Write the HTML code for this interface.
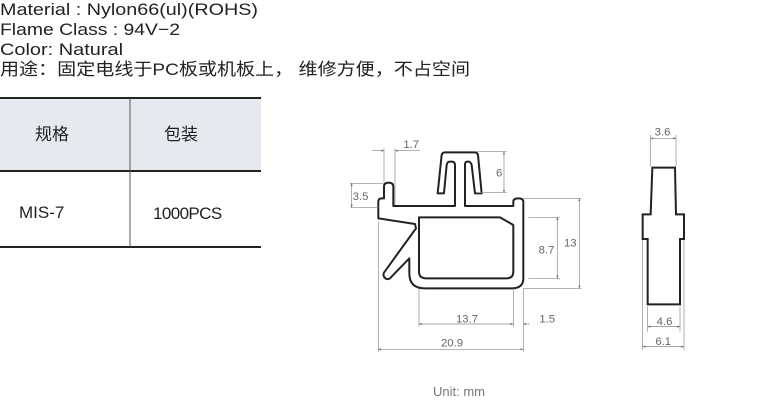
<!DOCTYPE html>
<html><head><meta charset="utf-8"><style>
html,body{margin:0;padding:0;background:#fff;}
svg{display:block;}
</style></head><body>
<svg width="780" height="407" viewBox="0 0 780 407" xmlns="http://www.w3.org/2000/svg">
<defs>
<marker id="a" viewBox="0 0 10 10" refX="10" refY="5" markerWidth="6" markerHeight="4" orient="auto-start-reverse"><path d="M0,1 L10,5 L0,9 Z" fill="#666"/></marker>
</defs>
<g font-family="Liberation Sans, Noto Sans CJK SC, sans-serif" fill="#222" font-size="17">
<text x="0" y="15" textLength="258" lengthAdjust="spacingAndGlyphs">Material : Nylon66(ul)(ROHS)</text>
<text x="0" y="35" textLength="180" lengthAdjust="spacingAndGlyphs">Flame Class : 94V−2</text>
<text x="0" y="55" textLength="123" lengthAdjust="spacingAndGlyphs">Color: Natural</text>
<text x="0" y="75" textLength="470" lengthAdjust="spacingAndGlyphs">用途：固定电线于PC板或机板上， 维修方便，不占空间</text>
</g>
<rect x="0" y="98" width="261" height="73" fill="#e6eaee"/>
<line x1="0" y1="98" x2="261" y2="98" stroke="#222" stroke-width="2"/>
<line x1="0" y1="171" x2="261" y2="171" stroke="#222" stroke-width="2"/>
<line x1="0" y1="247" x2="261" y2="247" stroke="#222" stroke-width="2"/>
<line x1="130" y1="98" x2="130" y2="247" stroke="#555" stroke-width="1"/>
<g font-family="Liberation Sans, Noto Sans CJK SC, sans-serif" fill="#222" font-size="17">
<text x="35" y="140">规格</text>
<text x="164" y="140">包装</text>
<text x="19" y="218">MIS-7</text>
<text x="153" y="219" letter-spacing="-0.6">1000PCS</text>
</g>
<g transform="translate(340,130) scale(0.3333)">
<g fill="none" stroke="#222" stroke-width="6" stroke-linejoin="round">
<path d="M115,265 L115,215 Q115,205 125,205 L132,205 L132,170 Q132,158 146,158 Q160,158 160,170 L160,228 L345,228 L345,105 Q345,95 335,95 L330,95 Q322,95 320,105 L312,190 L293,190 L305,75 Q307,67 315,67 L405,67 Q412,67 414,75 L425,190 L405,190 L395,105 Q392,95 385,95 L382,95 Q375,95 375,105 L375,228 L520,228 L520,215 Q520,205 535,205 Q550,205 550,215 L550,445 Q550,475 515,475 L255,475 Q208,475 208,430 L208,385 L150,445 Q140,452 132,440 Q128,432 134,425 L228,295 L225,282 Z"/>
<path d="M237,262 L480,262 L520,285 L520,425 Q520,445 500,445 L258,445 Q237,445 237,425 Z"/>
</g>
<g stroke="#888" stroke-width="2" fill="none">
<path d="M132,55 V158 M165,55 V225 M30,160 H130 M30,232 H115 M410,65 H500 M410,188 H500 M550,205 H725 M550,475 H725 M565,262 H660 M565,445 H660 M237,475 V590 M520,475 V590 M550,475 V665 M115,275 V665"/>
<line x1="95" y1="62" x2="132" y2="62" marker-end="url(#a)"/>
<line x1="165" y1="62" x2="240" y2="62"/>
<line x1="165" y1="62" x2="175" y2="62" marker-start="url(#a)"/>
<line x1="35" y1="160" x2="35" y2="232" marker-start="url(#a)" marker-end="url(#a)"/>
<line x1="492" y1="65" x2="492" y2="188" marker-start="url(#a)" marker-end="url(#a)"/>
<line x1="718" y1="205" x2="718" y2="475" marker-start="url(#a)" marker-end="url(#a)"/>
<line x1="652" y1="262" x2="652" y2="445" marker-start="url(#a)" marker-end="url(#a)"/>
<line x1="237" y1="582" x2="520" y2="582" marker-start="url(#a)" marker-end="url(#a)"/>
<line x1="570" y1="582" x2="550" y2="582" marker-end="url(#a)"/>
<line x1="115" y1="658" x2="550" y2="658" marker-start="url(#a)" marker-end="url(#a)"/>
</g>
<g font-family="Liberation Sans, sans-serif" fill="#666" font-size="34">
<text x="190" y="54">1.7</text>
<text x="38" y="210">3.5</text>
<text x="468" y="140">6</text>
<text x="672" y="350">13</text>
<text x="596" y="370">8.7</text>
<text x="348" y="577">13.7</text>
<text x="598" y="577">1.5</text>
<text x="303" y="650">20.9</text>
</g>
</g>
<g transform="translate(620,110) scale(0.3333)">
<path d="M97,173 L165,173 L168,313 L192,313 L192,387 L180,387 L180,583 L83,583 L83,387 L68,387 L68,313 L92,313 Z" fill="none" stroke="#222" stroke-width="6" stroke-linejoin="miter"/>
<g stroke="#888" stroke-width="2" fill="none">
<path d="M92,75 V170 M168,75 V170 M83,590 V665 M180,590 V665 M68,390 V720 M192,390 V720"/>
<line x1="92" y1="85" x2="168" y2="85" marker-start="url(#a)" marker-end="url(#a)"/>
<line x1="83" y1="650" x2="180" y2="650" marker-start="url(#a)" marker-end="url(#a)"/>
<line x1="68" y1="710" x2="192" y2="710" marker-start="url(#a)" marker-end="url(#a)"/>
</g>
<g font-family="Liberation Sans, sans-serif" fill="#666" font-size="34">
<text x="104" y="77">3.6</text>
<text x="110" y="645">4.6</text>
<text x="106" y="705">6.1</text>
</g>
</g>
<text x="433" y="396" font-family="Liberation Sans, sans-serif" font-size="13" fill="#777">Unit:  mm</text>
</svg>
</body></html>
